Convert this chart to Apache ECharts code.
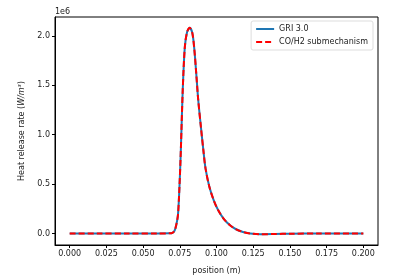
<!DOCTYPE html>
<html><head><meta charset="utf-8">
<script src="https://cdn.jsdelivr.net/npm/echarts@6/dist/echarts.min.js"></script>
<style>html,body{margin:0;padding:0;background:#fff}#c{width:400px;height:280px}</style>
</head><body><div id="c"></div>
<script>
const positions = [0, 0.02, 0.04, 0.06, 0.068, 0.070, 0.0715, 0.0725, 0.0737, 0.0745, 0.0755, 0.0762, 0.077, 0.0784, 0.080, 0.0818, 0.0835, 0.0848, 0.0862, 0.0875, 0.0895, 0.091, 0.0925, 0.095, 0.098, 0.101, 0.1048, 0.109, 0.113, 0.118, 0.123, 0.13, 0.14, 0.15, 0.17, 0.2];
const gri = [0, 0, 0, 0, 0.001, 0.006, 0.03, 0.08, 0.18, 0.38, 0.75, 1.08, 1.45, 1.88, 2.04, 2.08, 2.03, 1.88, 1.62, 1.36, 1.06, 0.85, 0.66, 0.48, 0.34, 0.24, 0.15, 0.085, 0.045, 0.015, 0.0, -0.008, -0.006, -0.003, -0.001, 0];
const coh2 = [0, 0, 0, 0, 0.001, 0.006, 0.03, 0.08, 0.18, 0.38, 0.75, 1.08, 1.45, 1.88, 2.04, 2.08, 2.03, 1.88, 1.62, 1.36, 1.06, 0.85, 0.66, 0.48, 0.34, 0.24, 0.15, 0.085, 0.045, 0.015, 0.0, -0.008, -0.006, -0.003, -0.001, 0];
const xTicks = [0, 0.025, 0.05, 0.075, 0.1, 0.125, 0.15, 0.175, 0.2];
const yTicks = [0, 0.5, 1.0, 1.5, 2.0];
const seriesNames = ['GRI 3.0', 'CO/H2 submechanism'];

const font = 'DejaVu Sans';
const chart = echarts.init(document.getElementById('c'), null, {renderer: 'canvas'});
const pair = (xs, ys) => xs.map((x, i) => [x, ys[i] * 1e6]);
chart.setOption({
  animation: false,
  backgroundColor: '#fff',
  grid: {left: 55, right: 22, top: 17, bottom: 33, show: true, borderColor: '#000', borderWidth: 1},
  title: {text: '1e6', left: 55, top: 8, padding: 0, textStyle: {fontFamily: font, fontSize: 8, fontWeight: 'normal', color: '#222'}},
  legend: {
    right: 27, top: 21, orient: 'vertical', itemWidth: 18, itemHeight: 6, itemGap: 5,
    padding: [4, 5, 4, 4],
    borderColor: '#ddd', borderWidth: 1, borderRadius: 2, backgroundColor: 'rgba(255,255,255,0.8)',
    textStyle: {fontFamily: font, fontSize: 8, color: '#222'},
    itemStyle: {opacity: 0},
    data: seriesNames
  },
  xAxis: {
    type: 'value', min: -0.01, max: 0.21,
    name: 'position (m)', nameLocation: 'middle', nameGap: 22,
    nameTextStyle: {fontFamily: font, fontSize: 8, color: '#222'},
    axisLine: {show: true, onZero: false, lineStyle: {color: '#000'}},
    axisTick: {show: true, length: 3, lineStyle: {color: '#000'},
      customValues: xTicks},
    axisLabel: {fontFamily: font, fontSize: 8, color: '#222', margin: 5,
      customValues: xTicks, formatter: v => v.toFixed(3)},
    splitLine: {show: false}
  },
  yAxis: {
    type: 'value', min: -0.117e6, max: 2.19e6,
    name: '{a|Heat release rate (}{b|W/m³}{a|)}', nameLocation: 'middle', nameGap: 27, nameRotate: 90,
    nameTextStyle: {rich: {a: {fontFamily: font, fontSize: 8, color: '#222'}, b: {fontFamily: font, fontSize: 8, fontStyle: 'italic', color: '#222'}}},
    axisLine: {show: true, onZero: false, lineStyle: {color: '#000'}},
    axisTick: {show: true, length: 3, lineStyle: {color: '#000'}, customValues: yTicks.map(v => v * 1e6)},
    axisLabel: {fontFamily: font, fontSize: 8, color: '#222', margin: 5,
      customValues: yTicks.map(v => v * 1e6), formatter: v => (v / 1e6).toFixed(1)},
    splitLine: {show: false}
  },
  series: [
    {name: seriesNames[0], type: 'line', data: pair(positions, gri), showSymbol: false, symbol: 'none',
      smooth: 0.3, lineStyle: {color: '#1f77b4', width: 2}, itemStyle: {color: '#1f77b4'}},
    {name: seriesNames[1], type: 'line', data: pair(positions, coh2), showSymbol: false, symbol: 'none',
      smooth: 0.3, lineStyle: {color: '#ff0000', width: 2, type: [6, 3]}, itemStyle: {color: '#ff0000'}}
  ]
});
</script></body></html>
